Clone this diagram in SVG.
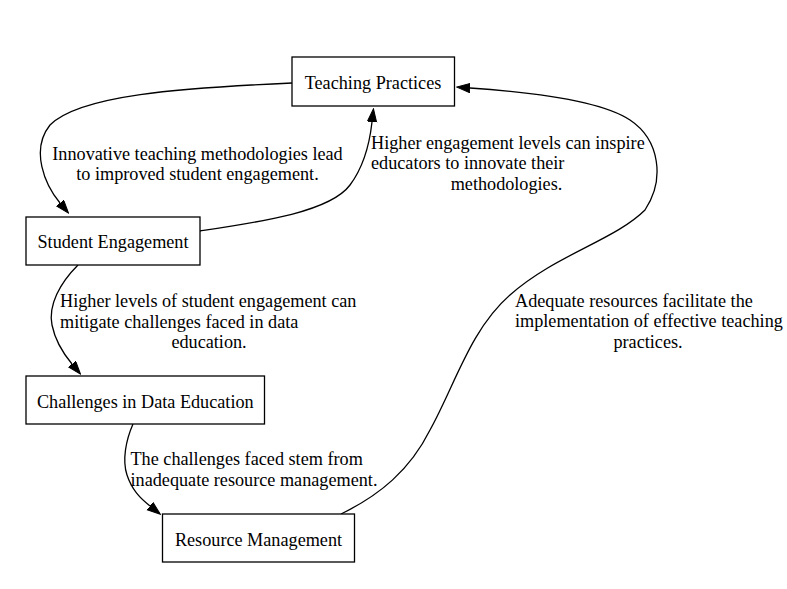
<svg xmlns="http://www.w3.org/2000/svg" width="787" height="589" viewBox="0 0 787 589">
<defs>
<style>
.node rect{fill:#fff;stroke:#000;stroke-width:1.3}
text{font-family:"Liberation Serif","Times New Roman",serif;font-size:18.2px;fill:#000}
.c{text-anchor:middle}
.l{text-anchor:start}
.edge path{fill:none;stroke:#000;stroke-width:1.3}
</style>
<marker id="arr" markerUnits="userSpaceOnUse" markerWidth="14" markerHeight="11" refX="0" refY="5" orient="auto">
<path d="M0,0.3 L13.3,5 L0,9.7 z" fill="#000" stroke="#000" stroke-width="1"/>
</marker>
</defs>
<rect width="787" height="589" fill="#fff"/>
<g id="connectors" class="edge">
<path d="M292,83 C180,88 80,95 50,125 C30,150 45,185 60,203" marker-end="url(#arr)"/>
<path d="M200,231 C260,222 330,212 350,185 C365,165 370,140 372,122" marker-end="url(#arr)"/>
<path d="M78,265 C60,283 48,305 52,325 C55,340 62,352 72,364" marker-end="url(#arr)"/>
<path d="M133,424 C126,440 122,460 127,475 C132,490 140,498 150,506" marker-end="url(#arr)"/>
<path d="M341,514 C380,495 410,470 430,430 C455,385 470,330 510,295 C555,255 615,240 645,210 C665,180 660,140 630,120 C600,100 530,92 470,88" marker-end="url(#arr)"/>
</g>
<g id="edge-labels">
<text class="c" x="197.5" y="159.5">Innovative teaching methodologies lead</text>
<text class="c" x="197.5" y="179.5">to improved student engagement.</text>
<text class="l" x="371" y="148.5">Higher engagement levels can inspire</text>
<text class="l" x="371" y="169">educators to innovate their</text>
<text class="c" x="506.5" y="189.5">methodologies.</text>
<text class="l" x="60" y="306.7">Higher levels of student engagement can</text>
<text class="l" x="60" y="327.5">mitigate challenges faced in data</text>
<text class="c" x="209" y="348.3">education.</text>
<text class="l" x="130.5" y="465">The challenges faced stem from</text>
<text class="l" x="130.5" y="486">inadequate resource management.</text>
<text class="l" x="515" y="306.7">Adequate resources facilitate the</text>
<text class="l" x="515" y="327.3">implementation of effective teaching</text>
<text class="c" x="648" y="347.5">practices.</text>
</g>
<g id="node-teaching" class="node">
<rect x="292" y="57" width="162.5" height="49"/>
<text class="c" x="373" y="89">Teaching Practices</text>
</g>
<g id="node-student" class="node">
<rect x="26" y="217" width="174" height="48"/>
<text class="c" x="113" y="248">Student Engagement</text>
</g>
<g id="node-challenges" class="node">
<rect x="26" y="376" width="238.5" height="48"/>
<text class="c" x="145.3" y="407.5">Challenges in Data Education</text>
</g>
<g id="node-resource" class="node">
<rect x="162.5" y="514" width="192" height="48"/>
<text class="c" x="258.5" y="545.5">Resource Management</text>
</g>
</svg>
